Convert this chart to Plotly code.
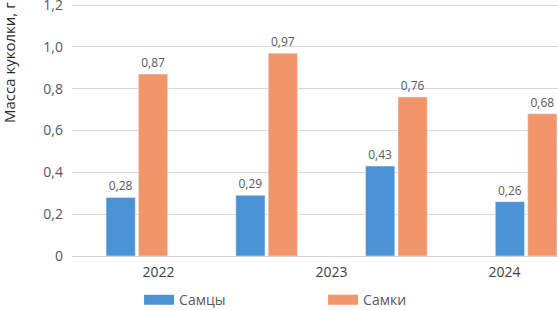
import plotly.graph_objects as go

# ---- data ----
groups = ["g1", "g2", "g3", "g4"]          # four bar pairs (unlabelled in the source)
males = [0.28, 0.29, 0.43, 0.26]            # Самцы
females = [0.87, 0.97, 0.76, 0.68]          # Самки
years = ["2022", "2023", "2024"]            # x tick labels
y_tickvals = [0, 0.2, 0.4, 0.6, 0.8, 1.0, 1.2]
y_ticktext = ["0", "0,2", "0,4", "0,6", "0,8", "1,0", "1,2"]
series_names = ["Самцы", "Самки"]

BLUE = "#4C93D6"
ORANGE = "#F3956B"
GREY = "#595959"
FONT = "Open Sans"

# The source chart is cropped on the right: only part of the axis is visible
visible_frac = 486 / 519

fig = go.Figure()
fig.add_trace(go.Bar(x=groups, y=males, marker_color=BLUE, showlegend=False,
                     texttemplate="%{y:.2f}", textposition="outside",
                     textfont=dict(size=12, color=GREY, family=FONT), cliponaxis=False))
fig.add_trace(go.Bar(x=groups, y=females, marker_color=ORANGE, showlegend=False,
                     texttemplate="%{y:.2f}", textposition="outside",
                     textfont=dict(size=12, color=GREY, family=FONT), cliponaxis=False))
# legend / year-axis carriers
for name, col in zip(series_names, [BLUE, ORANGE]):
    fig.add_trace(go.Scatter(x=years, y=[None] * len(years), mode="lines", name=name,
                             line=dict(color=col, width=10), xaxis="x2", yaxis="y"))

fig.update_layout(
    width=558, height=310,
    margin=dict(l=72, r=0, t=3, b=54, autoexpand=False),
    paper_bgcolor="white", plot_bgcolor="white",
    separators=", ",
    barmode="group", bargap=0.5, bargroupgap=0.1,
    font=dict(family=FONT, color=GREY, size=13),
    xaxis=dict(range=[-0.5, -0.5 + len(groups) * visible_frac], showticklabels=False,
               showgrid=False, zeroline=False, showline=False, ticks="", automargin=False),
    xaxis2=dict(range=[-0.5, -0.5 + len(years) * visible_frac], overlaying="x",
                side="bottom", anchor="y", type="category", showgrid=False,
                zeroline=False, showline=False, ticks="", automargin=False,
                ticklabelstandoff=6,
                tickfont=dict(size=14, color="#404040", family=FONT)),
    yaxis=dict(range=[0, 1.21], tickvals=y_tickvals, ticktext=y_ticktext,
               showgrid=True, gridcolor="#D9D9D9", gridwidth=1,
               zeroline=True, zerolinecolor="#D0D0D0", zerolinewidth=1,
               showline=False, ticks="", ticklabelstandoff=8, automargin=False,
               ticklabeloverflow="allow",
               tickfont=dict(size=14, color=GREY, family=FONT)),
    legend=dict(orientation="h", x=0.138, xanchor="left", y=-0.175, yanchor="middle",
                entrywidth=139, entrywidthmode="pixels",
                font=dict(size=14, color=GREY, family=FONT), bgcolor="rgba(0,0,0,0)"),
    annotations=[dict(text="Масса куколки, г", textangle=-90, xref="paper", yref="paper",
                      x=-0.1296, xanchor="center", y=1.01, yanchor="top", showarrow=False,
                      font=dict(size=15, color="#262626", family=FONT))],
)

fig.write_html("out.html", config={"displayModeBar": False},
               post_script="document.body.style.margin='0';document.body.style.overflow='hidden';")
